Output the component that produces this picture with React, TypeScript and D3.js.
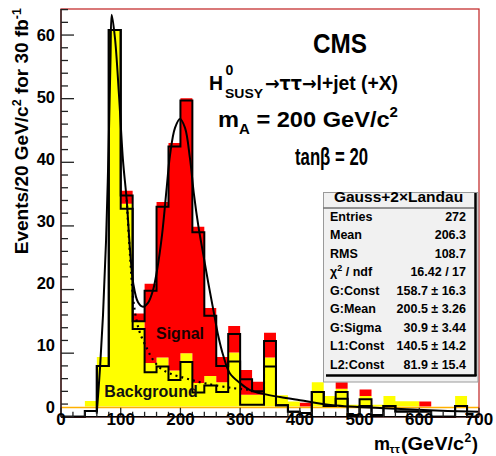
import React from 'react';
import * as d3 from 'd3';

// ---------- data ----------
const massBins = [0, 20, 40, 60, 80, 100, 120, 140, 160, 180, 200, 220, 240, 260, 280, 300, 320, 340, 360, 380, 400, 420, 440, 460, 480, 500, 520, 540, 560, 580, 600, 620, 640, 660, 680];
const background = [0, 0, 0.9, 8.0, 60.8, 32.7, 13.8, 7.0, 7.9, 5.8, 8.6, 3.8, 4.9, 3.9, 8.7, 1.9, 1.9, 7.9, 1.8, 0.8, 0, 3.9, 1.7, 2.85, 0.3, 1.7, 0.3, 1.7, 0.85, 0.85, 0, 0, 0, 1.7, 0];
const signal = [0, 0, 0, 0, 0, 2.1, 1.2, 12.8, 25.1, 36.7, 41.1, 25.2, 11.0, 4.1, 4.3, 4.0, 2.1, 4.0, 0, 0, 0.6, 0, 0, 1.05, 0, 1.05, 0, 0, 0, 0, 0.8, 0, 0, 0, 0];
const binWidth = 20;

const fitMass = [59.8, 65.3, 70.3, 75.4, 79.6, 82.9, 84.9, 90.4, 97.1, 103.8, 110.0, 115.6, 121.1, 129.0, 137.3, 145.7, 154.1, 160.8, 169.2, 177.0, 182.5, 190.9, 199.3, 207.7, 216.0, 222.7, 230.0, 238.3, 246.7, 255.1, 263.4, 271.8, 283.0, 299.8, 316.5, 338.8, 366.8, 400.3, 455.5, 551.0, 606.8, 700];
const fitValue = [0.5, 7.6, 15.9, 27.6, 41.9, 56.1, 63.2, 59.5, 50.6, 40.3, 34.1, 26.2, 20.9, 18.0, 17.3, 17.9, 19.9, 23.0, 28.6, 36.0, 41.1, 45.4, 46.8, 45.4, 40.6, 34.9, 30.0, 25.5, 21.0, 16.8, 12.7, 9.6, 6.8, 5.3, 4.2, 3.6, 3.1, 2.6, 1.8, 1.3, 1.06, 0.78];

const bkgFitMass = [110.0, 115.6, 121.1, 126.4, 132.2, 143.5, 154.6, 165.8, 182.5, 210.5, 244.0, 288.6, 316.5, 338.8];
const bkgFitValue = [34.1, 25.4, 18.4, 15.2, 13.2, 10.8, 8.9, 7.7, 6.8, 6.0, 5.2, 4.5, 4.2, 3.6];

const xTicks = [0, 100, 200, 300, 400, 500, 600, 700];
const yTicks = [0, 10, 20, 30, 40, 50, 60];

const statLabels = ['Entries', 'Mean', 'RMS', 'CHI', 'G:Const', 'G:Mean', 'G:Sigma', 'L1:Const', 'L2:Const'];
const statValues = ['272', '206.3', '108.7', '16.42 / 17', '158.7 \u00b1 16.3', '200.5 \u00b1 3.26', '30.9 \u00b1 3.44', '140.5 \u00b1 14.2', '81.9 \u00b1 15.4'];

const FONT = "'Liberation Sans', Arial, Helvetica, sans-serif";

export default function App() {
  const W = 496, H = 456;
  const x = d3.scaleLinear().domain([0, 700]).range([61, 479]);
  const yFill = d3.scaleLinear().domain([0, 64]).range([406.5, 9.7]);
  const yLine = d3.scaleLinear().domain([0, 64]).range([416.8, 9.6]);

  type P = { m: number; b: number; t: number };
  const pts: P[] = massBins.map((m, i) => ({ m, b: background[i], t: background[i] + signal[i] }));
  const last = pts[pts.length - 1];
  const ptsE: P[] = [...pts, { m: last.m + binWidth, b: last.b, t: last.t }];

  const areaY = d3.area<P>().curve(d3.curveStepAfter).x(d => x(d.m)).y0(yFill(0)).y1(d => yFill(d.b));
  const areaR = d3.area<P>().curve(d3.curveStepAfter).x(d => x(d.m)).y0(d => yFill(d.b)).y1(d => yFill(d.t));
  const lineB = d3.line<P>().curve(d3.curveStepAfter).x(d => x(d.m)).y(d => yLine(d.b));
  const lineT = d3.line<P>().curve(d3.curveStepAfter).x(d => x(d.m)).y(d => yLine(d.t));

  const fitLine = d3.line<number>().curve(d3.curveCatmullRom.alpha(0.5))
    .x((_, i) => x(fitMass[i])).y((v) => yLine(v));
  const bkgLine = d3.line<number>().curve(d3.curveCatmullRom.alpha(0.5))
    .x((_, i) => x(bkgFitMass[i])).y((v) => yLine(v));

  const yMinor = d3.range(0, 65, 2);
  const xMinor = d3.range(0, 701, 20);

  const boxL = 323.5, boxT = 192.5, boxR = 478, boxB = 382;
  const rowY = (i: number) => 220.5 + i * 18.5;

  return (
    <svg width={W} height={H} style={{ position: 'absolute', left: 0, top: 0, background: '#fff' }} fontFamily={FONT}>
      <rect x={0} y={0} width={W} height={H} fill="#fff" />
      {/* fills */}
      <path d={areaY(ptsE) || ''} fill="#ffff00" />
      <path d={areaR(ptsE) || ''} fill="#ff0000" />
      <line x1={x(0)} x2={x(700)} y1={yFill(0) + 1} y2={yFill(0) + 1} stroke="#ffb000" strokeWidth={1.5} />
      {/* outlines */}
      <path d={lineB(ptsE) || ''} fill="none" stroke="#000" strokeWidth={2} />
      <path d={lineT(ptsE) || ''} fill="none" stroke="#000" strokeWidth={2} />
      {/* fit curves */}
      <path d={bkgLine(bkgFitValue) || ''} fill="none" stroke="#000" strokeWidth={2.2} strokeDasharray="2,4" />
      <path d={fitLine(fitValue) || ''} fill="none" stroke="#000" strokeWidth={2} />

      {/* frame */}
      <rect x={61} y={9} width={418} height={407.8} fill="none" stroke="#c02020" strokeWidth={1.2} />
      <line x1={61} x2={61} y1={9} y2={416.8} stroke="#222" strokeWidth={1.4} />
      <line x1={61} x2={479} y1={416.8} y2={416.8} stroke="#000" strokeWidth={1.6} />
      {/* y ticks */}
      {yMinor.map(v => (
        <line key={'ym' + v} x1={61} x2={v % 10 === 0 ? 74 : 68} y1={yLine(v)} y2={yLine(v)} stroke="#222" strokeWidth={1.3} />
      ))}
      {yTicks.map(v => (
        <text key={'yl' + v} x={55} y={yFill(v) + 6} textAnchor="end" fontSize={16.5} fontWeight="bold">{v}</text>
      ))}
      {/* x ticks */}
      {xMinor.map(v => (
        <line key={'xm' + v} x1={x(v)} x2={x(v)} y1={416.8} y2={v % 100 === 0 ? 407.8 : 411.8} stroke="#222" strokeWidth={1.3} />
      ))}
      {xTicks.map(v => (
        <text key={'xl' + v} x={x(v)} y={425} textAnchor="middle" fontSize={17} fontWeight="bold">{v}</text>
      ))}

      {/* axis titles */}
      <text transform="translate(28,8) rotate(-90)" textAnchor="end" fontSize={19} fontWeight="bold">
        Events/20 GeV/c<tspan dy={-7} fontSize={12.5}>2</tspan><tspan dy={7}> for 30 fb</tspan><tspan dy={-7} fontSize={12.5}>-1</tspan>
      </text>
      <text x={374} y={450} fontSize={18} fontWeight="bold">m</text>
      <text x={389.5} y={452.5} fontSize={11.5} fontWeight="bold">ττ</text>
      <text x={401} y={450} fontSize={18} fontWeight="bold" textLength={63} lengthAdjust="spacingAndGlyphs">(GeV/c</text>
      <text x={464.5} y={442} fontSize={12} fontWeight="bold">2</text>
      <text x={472} y={450} fontSize={18} fontWeight="bold">)</text>

      {/* annotations */}
      <text x={340} y={53} textAnchor="middle" fontSize={27} fontWeight="bold" textLength={54} lengthAdjust="spacingAndGlyphs">CMS</text>
      <text x={209} y={90} fontSize={21} fontWeight="bold" textLength={14} lengthAdjust="spacingAndGlyphs">H</text>
      <text x={225.5} y={75} fontSize={14} fontWeight="bold">0</text>
      <text x={225} y={98} fontSize={13} fontWeight="bold" textLength={38} lengthAdjust="spacingAndGlyphs">SUSY</text>
      <text x={265} y={90} fontSize={21} fontWeight="bold" textLength={133} lengthAdjust="spacingAndGlyphs">
        <tspan fontFamily="'DejaVu Sans', sans-serif" fontSize={19}>→ττ→</tspan>l+jet (+X)
      </text>
      <text x={218} y={127} fontSize={22} fontWeight="bold" textLength={180} lengthAdjust="spacingAndGlyphs">
        m<tspan dy={7} fontSize={14}>A</tspan><tspan dy={-7}> = 200 GeV/c</tspan><tspan dy={-10} fontSize={14}>2</tspan>
      </text>
      <text x={295} y={165} fontSize={23} fontWeight="bold" textLength={73} lengthAdjust="spacingAndGlyphs">tanβ = 20</text>

      <text x={180} y={339} textAnchor="middle" fontSize={16} fontWeight="bold" fill="#1a0000">Signal</text>
      <text x={151} y={397} textAnchor="middle" fontSize={16} fontWeight="bold" fill="#111">Background</text>

      {/* stats box */}
      <rect x={boxL} y={boxT} width={boxR - boxL} height={boxB - boxT} fill="#f1f1f1" stroke="#9a9a9a" strokeWidth={1} />
      <line x1={475.5} x2={475.5} y1={193} y2={376} stroke="#000" strokeWidth={2.5} />
      <line x1={326} x2={476.5} y1={375.5} y2={375.5} stroke="#000" strokeWidth={2.5} />
      <line x1={boxL} x2={475} y1={208} y2={208} stroke="#333" strokeWidth={1} />
      <text x={398.5} y={201.5} textAnchor="middle" fontSize={15.5} fontWeight="bold">Gauss+2×Landau</text>
      {statLabels.map((l, i) => (
        <text key={'sl' + i} x={330} y={rowY(i)} fontSize={12.5} fontWeight="bold">
          {l === 'CHI' ? (<>χ<tspan dy={-5} fontSize={9}>2</tspan><tspan dy={5}> / ndf</tspan></>) : l}
        </text>
      ))}
      {statValues.map((v, i) => (
        <text key={'sv' + i} x={466} y={rowY(i)} textAnchor="end" fontSize={12.5} fontWeight="bold">{v}</text>
      ))}
    </svg>
  );
}
